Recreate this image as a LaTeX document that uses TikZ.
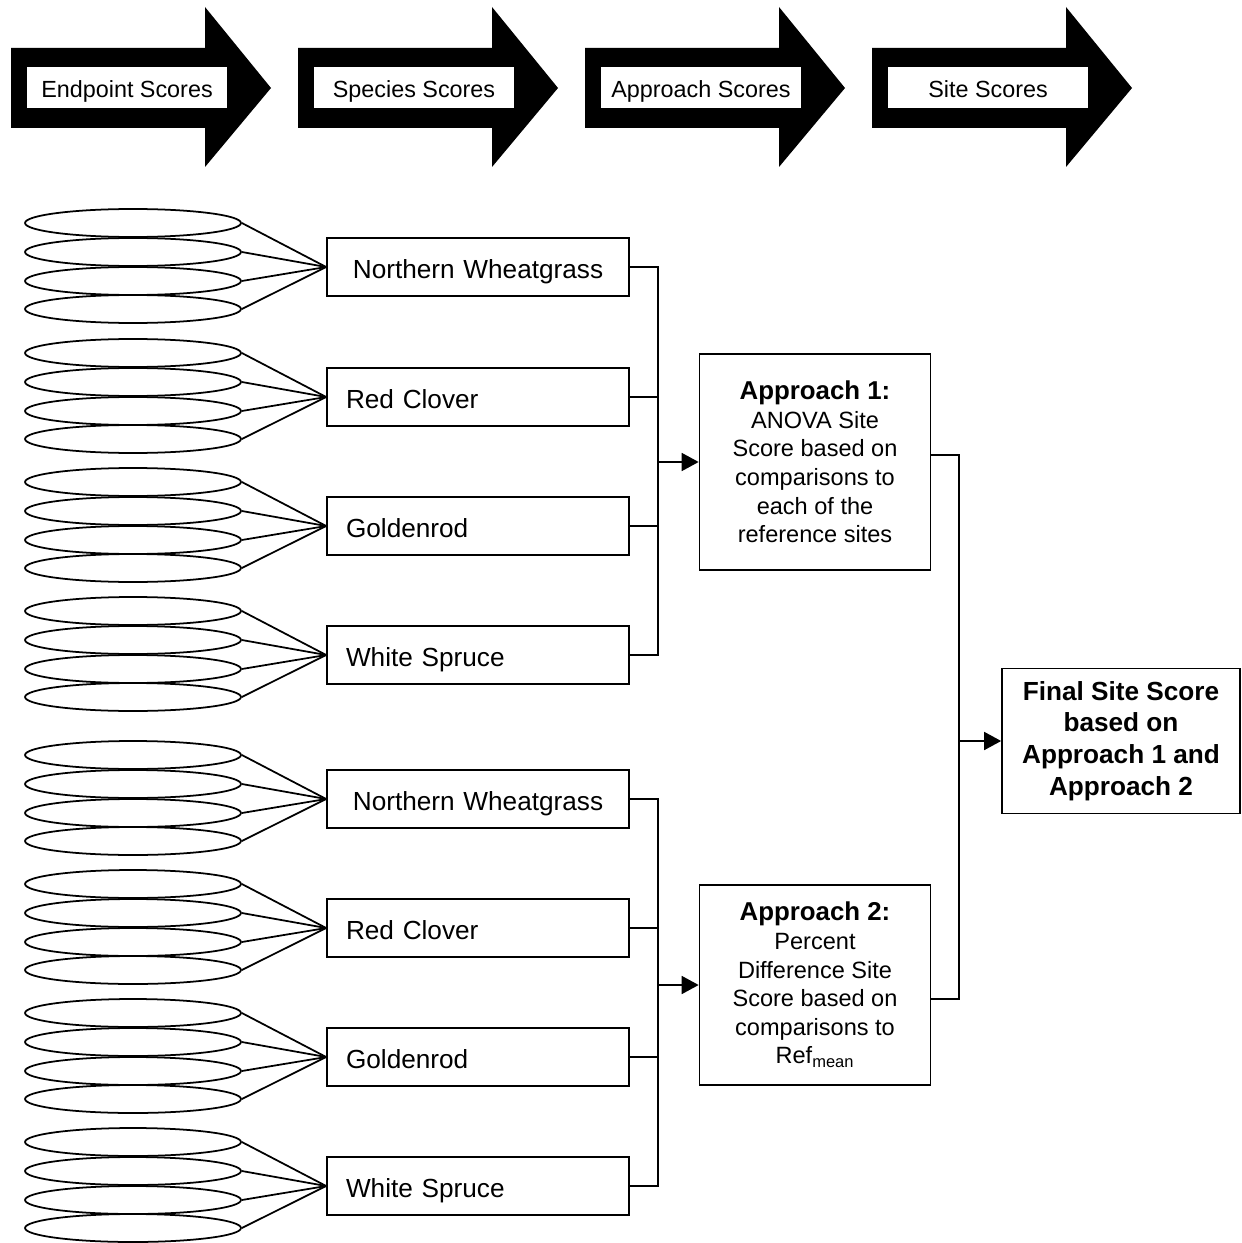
\documentclass[tikz,border=0pt]{standalone}
\usepackage{fontspec}
\setmainfont{Liberation Sans}
\usepackage{tikz}
\usetikzlibrary{arrows.meta,shapes.geometric}

\begin{document}
\begin{tikzpicture}[x=0.02cm,y=-0.02cm,
    stagebox/.style={fill=white,minimum width=4cm,minimum height=0.82cm,inner sep=0pt,text height=0.38cm,text depth=0cm,font=\fontsize{13.3}{16}\selectfont},
    leaf/.style={draw,ellipse,line width=1pt,minimum width=4.32cm,minimum height=0.56cm,inner sep=0pt},
    species/.style={draw,line width=1pt,minimum width=6.04cm,minimum height=1.16cm,inner xsep=0.38cm,text width=5.28cm,text height=0.46cm,text depth=0cm,font=\fontsize{14.9}{18}\selectfont},
    approach/.style={draw,line width=1pt,minimum width=4.62cm,inner sep=0pt,align=center,font=\fontsize{13.4}{16.3}\selectfont},
    link/.style={line width=1pt},
    arr/.style={line width=1pt,-{Triangle[length=0.34cm,width=0.36cm]}}]
    \useasboundingbox (0,0) rectangle (1241,1243);

    % stage arrows along the top
    \foreach \x/\t [count=\i] in {11/Endpoint Scores,298/Species Scores,585/Approach Scores,872/Site Scores} {
      \fill (\x,48) -- ++(194,0) -- ++(0,-41) -- ++(66,81) -- ++(-66,79) -- ++(0,-39) -- ++(-194,0) -- cycle;
      \node[stagebox] (h\i) at (\x+116,88) {\t};
    }

    % species boxes with their endpoints
    \foreach \i/\y/\a/\t in {1/267/center/Northern Wheatgrass,2/397/left/Red Clover,3/526/left/Goldenrod,4/655/left/White Spruce,
                             5/799/center/Northern Wheatgrass,6/928/left/Red Clover,7/1057/left/Goldenrod,8/1186/left/White Spruce} {
      \node[species,align=\a] (s\i) at (478,\y) {\t};
      \foreach \k/\dy in {1/-44,2/-15,3/14,4/42} {
        \node[leaf] (e\i-\k) at (133,\y+\dy) {};
        \draw[link] (e\i-\k.east) -- (s\i.west);
      }
    }

    \node[approach,minimum height=4.32cm] (app1) at (815,462) {\textbf{\fontsize{14.7}{16.3}\selectfont Approach 1:}\\ANOVA Site\\Score based on\\comparisons to\\each of the\\reference sites};
    \node[approach,minimum height=4cm] (app2) at (815,985) {\textbf{\fontsize{14.7}{16.3}\selectfont Approach 2:}\\Percent\\Difference Site\\Score based on\\comparisons to\\Ref\textsubscript{mean}};
    \node[draw,line width=1pt,minimum width=4.76cm,minimum height=2.9cm,inner sep=0pt,align=center,font=\bfseries\fontsize{14.9}{18.1}\selectfont] (fin) at (1121,741) {Final Site Score\\based on\\Approach 1 and\\Approach 2};

    % brackets into the approaches
    \draw[link] (s1.east) -- ++(28,0) coordinate (t1) -- (t1 |- s4.east) -- (s4.east);
    \draw[link] (s2.east) -- (t1 |- s2.east);
    \draw[link] (s3.east) -- (t1 |- s3.east);
    \draw[arr] (t1 |- app1.west) -- (app1.west);

    \draw[link] (s5.east) -- ++(28,0) coordinate (t2) -- (t2 |- s8.east) -- (s8.east);
    \draw[link] (s6.east) -- (t2 |- s6.east);
    \draw[link] (s7.east) -- (t2 |- s7.east);
    \draw[arr] (t2 |- app2.west) -- (app2.west);

    % both approaches into the final score
    \coordinate (a1out) at ([yshift=0.14cm]app1.east);
    \coordinate (a2out) at ([yshift=-0.28cm]app2.east);
    \draw[link] (a1out) -- ++(28,0) coordinate (r1) -- (r1 |- a2out) -- (a2out);
    \draw[arr] (r1 |- fin.west) -- (fin.west);
\end{tikzpicture}
\end{document}
